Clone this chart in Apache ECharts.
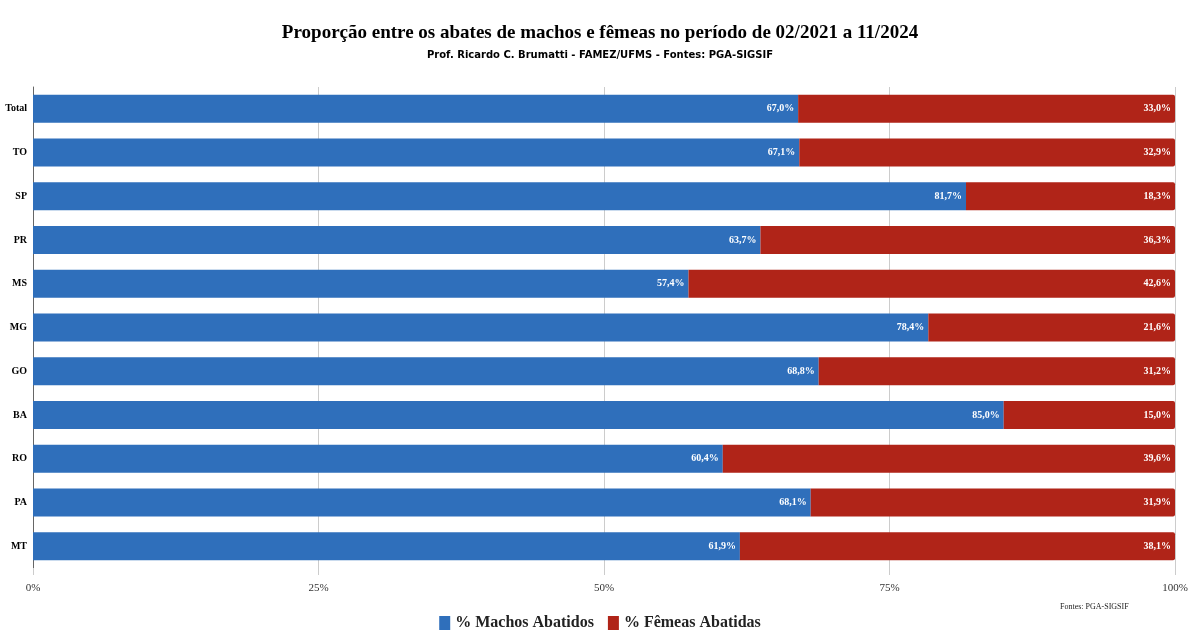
<!DOCTYPE html>
<html>
<head>
<meta charset="utf-8">
<script src="https://cdn.jsdelivr.net/npm/echarts@6/dist/echarts.min.js"></script>
<style>
  html, body { margin: 0; padding: 0; background: #fff; }
  #chart { width: 1200px; height: 641px; }
</style>
</head>
<body>
<div id="chart"></div>
<script>
// bottom to top
const categories = ['MT', 'PA', 'RO', 'BA', 'GO', 'MG', 'MS', 'PR', 'SP', 'TO', 'Total'];
const machos = [61.9, 68.1, 60.4, 85.0, 68.8, 78.4, 57.4, 63.7, 81.7, 67.1, 67.0];
const femeas = [38.1, 31.9, 39.6, 15.0, 31.2, 21.6, 42.6, 36.3, 18.3, 32.9, 33.0];
const xTicks = [0, 25, 50, 75, 100];

const serif = '"Liberation Serif", "DejaVu Serif", serif';
const chart = echarts.init(document.getElementById('chart'));

const fmt = v => v.toFixed(1).replace('.', ',') + '%';
const label = {
  show: true, position: 'insideRight', distance: 4,
  color: '#fff', fontFamily: serif, fontWeight: 'bold', fontSize: 10,
  formatter: p => fmt(p.value)
};

chart.setOption({
  animation: false,
  title: [
    {
      text: 'Proporção entre os abates de machos e fêmeas no período de 02/2021 a 11/2024',
      left: 'center', top: 19,
      textStyle: { fontFamily: serif, fontWeight: 'bold', fontSize: 19, color: '#000' }
    },
    {
      text: 'Prof. Ricardo C. Brumatti - FAMEZ/UFMS - Fontes: PGA-SIGSIF',
      left: 'center', top: 45,
      textStyle: { fontFamily: '"DejaVu Sans", sans-serif', fontWeight: 'bold', fontSize: 10, color: '#000' }
    },
    {
      text: 'Fontes: PGA-SIGSIF',
      left: 1055, top: 598,
      textStyle: { fontFamily: serif, fontWeight: 'normal', fontSize: 8, color: '#222' }
    }
  ],
  legend: {
    bottom: 5, left: 'center',
    itemWidth: 11, itemHeight: 14, itemGap: 14,
    icon: 'rect',
    textStyle: { fontFamily: serif, fontWeight: 'bold', fontSize: 16, color: '#222' },
    data: ['% Machos Abatidos', '% Fêmeas Abatidas']
  },
  grid: { left: 33, right: 25, top: 87, bottom: 73 },
  xAxis: {
    type: 'value', min: 0, max: 100, interval: 25,
    axisLine: { show: false },
    axisTick: { show: true, length: 7, lineStyle: { color: '#ccc' } },
    splitLine: { lineStyle: { color: '#ccc' } },
    axisLabel: {
      fontFamily: serif, fontSize: 11, color: '#333', margin: 15,
      formatter: v => xTicks.includes(v) ? v + '%' : ''
    }
  },
  yAxis: {
    type: 'category', data: categories,
    axisLine: { show: true, lineStyle: { color: '#666' } },
    axisTick: { show: false },
    axisLabel: { fontFamily: serif, fontWeight: 'bold', fontSize: 10, color: '#000', margin: 6 }
  },
  series: [
    {
      name: '% Machos Abatidos', type: 'bar', stack: 'a', data: machos,
      barCategoryGap: '36%',
      itemStyle: { color: '#2f6fbb' }, label
    },
    {
      name: '% Fêmeas Abatidas', type: 'bar', stack: 'a', data: femeas,
      itemStyle: { color: '#b02418', borderRadius: [0, 2, 2, 0] }, label
    }
  ]
});
</script>
</body>
</html>
